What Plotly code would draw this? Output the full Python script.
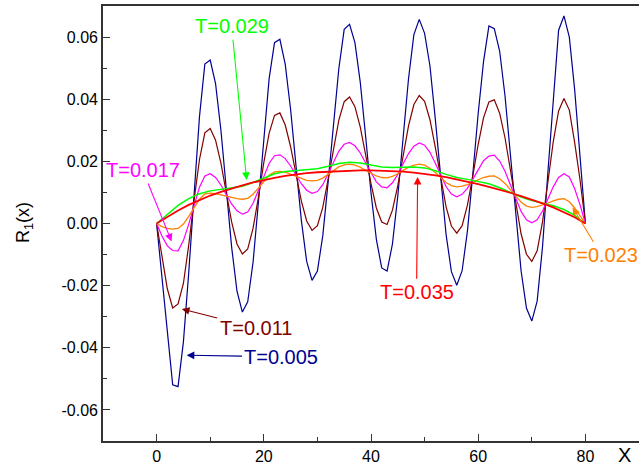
import plotly.graph_objects as go

# ---- data ----
x_fine = list(range(0, 81))          # x grid of the oscillating curves
x_coarse = list(range(0, 81, 2))     # x grid of the smooth curves

r_t005 = [0, -0.0173, -0.0346, -0.0519, -0.0525, -0.0381, -0.0157, 0.0107, 0.0344, 0.0513, 0.0526,
          0.0450, 0.0300, 0.0111, -0.0076, -0.0218, -0.0285, -0.0252, -0.0124, 0.0069, 0.0283,
          0.0467, 0.0582, 0.0593, 0.0512, 0.0367, 0.0187, 0.0011, -0.0122, -0.0183, -0.0153,
          -0.0040, 0.0133, 0.0327, 0.0499, 0.0625, 0.0641, 0.0582, 0.0454, 0.0280, 0.0099,
          -0.0051, -0.0143, -0.0153, -0.0066, 0.0089, 0.0281, 0.0466, 0.0608, 0.0657, 0.0612,
          0.0507, 0.0336, 0.0142, -0.0034, -0.0155, -0.0199, -0.0152, -0.0023, 0.0160, 0.0355,
          0.0522, 0.0636, 0.0627, 0.0555, 0.0411, 0.0222, 0.0023, -0.0152, -0.0272, -0.0314,
          -0.0250, -0.0075, 0.0164, 0.0408, 0.0622, 0.0668, 0.0600, 0.0430, 0.0220, 0]

r_t011 = [0, -0.011, -0.021, -0.0272, -0.0259, -0.0193, -0.0069, 0.0076, 0.0206, 0.0292, 0.0306,
          0.0268, 0.0194, 0.0099, 0.0005, -0.0066, -0.0098, -0.0082, -0.0015, 0.0085, 0.0196,
          0.0291, 0.0348, 0.0356, 0.0317, 0.0247, 0.0159, 0.0073, 0.0008, -0.0022, -0.0007,
          0.0052, 0.0142, 0.0243, 0.0333, 0.0392, 0.0407, 0.0376, 0.0310, 0.0221, 0.0128,
          0.0050, 0.0005, -0.0003, 0.0043, 0.0122, 0.0219, 0.0314, 0.0383, 0.0412, 0.0393,
          0.0334, 0.0245, 0.0145, 0.0054, -0.0008, -0.0031, -0.0007, 0.0060, 0.0154, 0.0255,
          0.0341, 0.0391, 0.0398, 0.0355, 0.0276, 0.0172, 0.0063, -0.0033, -0.0099, -0.0122,
          -0.0088, 0.0005, 0.0133, 0.0263, 0.0362, 0.0402, 0.0365, 0.026, 0.014, 0]

r_t017 = [0, -0.0040, -0.0072, -0.0087, -0.0088, -0.0055, -0.0002, 0.0061, 0.0117, 0.0153, 0.0160,
          0.0148, 0.0124, 0.0093, 0.0063, 0.0041, 0.0030, 0.0037, 0.0065, 0.0107, 0.0154,
          0.0194, 0.0218, 0.0221, 0.0209, 0.0185, 0.0156, 0.0128, 0.0107, 0.0097, 0.0103,
          0.0125, 0.0160, 0.0198, 0.0233, 0.0255, 0.0261, 0.0250, 0.0227, 0.0195, 0.0162,
          0.0134, 0.0118, 0.0115, 0.0131, 0.0158, 0.0192, 0.0225, 0.0249, 0.0259, 0.0252,
          0.0229, 0.0194, 0.0155, 0.0119, 0.0095, 0.0086, 0.0094, 0.0114, 0.0143, 0.0175,
          0.0202, 0.0217, 0.0220, 0.0201, 0.0168, 0.0125, 0.0079, 0.0039, 0.0012, 0.0002,
          0.0012, 0.0040, 0.0079, 0.0118, 0.0148, 0.0160, 0.0150, 0.0112, 0.0060, 0]

r_t023 = [0, -0.0010, -0.0016, -0.0018, -0.0016, -0.0002, 0.0023, 0.0052, 0.0078, 0.0095, 0.0098,
          0.0096, 0.0092, 0.0088, 0.0083, 0.0080, 0.0078, 0.0081, 0.0094, 0.0114, 0.0136,
          0.0155, 0.0166, 0.0168, 0.0165, 0.0159, 0.0152, 0.0145, 0.0139, 0.0137, 0.0139,
          0.0146, 0.0158, 0.0170, 0.0182, 0.0189, 0.0191, 0.0188, 0.0181, 0.0171, 0.0161,
          0.0153, 0.0148, 0.0147, 0.0152, 0.0160, 0.0171, 0.0181, 0.0188, 0.0191, 0.0188,
          0.0178, 0.0164, 0.0147, 0.0132, 0.0122, 0.0118, 0.0120, 0.0125, 0.0133, 0.0141,
          0.0148, 0.0152, 0.0153, 0.0144, 0.0129, 0.0109, 0.0088, 0.0069, 0.0056, 0.0052,
          0.0054, 0.0059, 0.0066, 0.0073, 0.0078, 0.0080, 0.0070, 0.0050, 0.0026, 0]

r_t029 = [0, 0.0030, 0.0058, 0.0080, 0.0096, 0.0105, 0.0110, 0.0114, 0.0120, 0.0132,
          0.0147, 0.0160, 0.0167, 0.0170, 0.0172, 0.0176, 0.0184, 0.0193, 0.0197, 0.0195,
          0.0188, 0.0182, 0.0180, 0.0181, 0.0182, 0.0179, 0.0170, 0.0158, 0.0148, 0.0142,
          0.0136, 0.0128, 0.0115, 0.0099, 0.0085, 0.0074, 0.0066, 0.0057, 0.0045, 0.0026, 0]

r_t035 = [0, 0.0022, 0.0042, 0.0060, 0.0076, 0.0090, 0.0102, 0.0113, 0.0123, 0.0132,
          0.0140, 0.0147, 0.0153, 0.0158, 0.0162, 0.0165, 0.0167, 0.0169, 0.0170, 0.0171,
          0.0171, 0.0170, 0.0169, 0.0167, 0.0164, 0.0160, 0.0155, 0.0149, 0.0142, 0.0135,
          0.0127, 0.0118, 0.0109, 0.0099, 0.0088, 0.0077, 0.0065, 0.0052, 0.0037, 0.0020, 0]

x_ticks = [0, 20, 40, 60, 80]
y_ticks = [-0.06, -0.04, -0.02, 0.00, 0.02, 0.04, 0.06]
y_tick_text = ["-0.06", "-0.04", "-0.02", "0.00", "0.02", "0.04", "0.06"]

C_BLUE = "#000090"
C_BROWN = "#800000"
C_MAG = "#FF00FF"
C_ORANGE = "#FF8000"
C_GREEN = "#00FF00"
C_RED = "#FF0000"

series = [
    (x_fine, r_t005, C_BLUE, 1.2),
    (x_fine, r_t011, C_BROWN, 1.2),
    (x_fine, r_t017, C_MAG, 1.2),
    (x_fine, r_t023, C_ORANGE, 1.3),
    (x_coarse, r_t029, C_GREEN, 1.5),
    (x_coarse, r_t035, C_RED, 1.8),
]

fig = go.Figure()
for xs, ys, col, w in series:
    fig.add_trace(go.Scatter(x=xs, y=ys, mode="lines",
                             line=dict(color=col, width=w), showlegend=False,
                             hoverinfo="skip"))

FONT = "Liberation Sans, Arial, sans-serif"

# labels with arrows: (text, color, text centre x, text centre y, arrow head x, arrow head y)
labels = [
    ("T=0.029", C_GREEN, 14.0, 0.0635, 16.8, 0.0140),
    ("T=0.017", C_MAG, -2.6, 0.0172, 2.8, -0.0058),
    ("T=0.011", C_BROWN, 18.5, -0.0336, 4.7, -0.0275),
    ("T=0.005", C_BLUE, 23.3, -0.0429, 5.6, -0.0424),
    ("T=0.035", C_RED, 48.5, -0.0221, 48.7, 0.0150),
    ("T=0.023", C_ORANGE, 83.0, -0.0102, 77.6, 0.0052),
]

annotations = []
for text, col, tx, ty, hx, hy in labels:
    annotations.append(dict(x=hx, y=hy, ax=tx, ay=ty, xref="x", yref="y",
                            axref="x", ayref="y", text=text, showarrow=True,
                            arrowhead=2, arrowsize=1.4, arrowwidth=1.1,
                            arrowcolor=col, standoff=0, borderpad=2,
                            font=dict(family=FONT, size=20, color=col)))

W, H = 639, 465
L, R, T, B = 103, 0, 6, 24
pw, ph = W - L - R, H - T - B


def px_to_paper(px, py):
    return (px - L) / pw, 1 - (py - T) / ph


xt, yt = px_to_paper(624, 455)
annotations.append(dict(x=xt, y=yt, xref="paper", yref="paper", text="X",
                        showarrow=False, xanchor="center", yanchor="middle",
                        font=dict(family=FONT, size=20, color="#000000")))
xt, yt = px_to_paper(24, 223)
annotations.append(dict(x=xt, y=yt, xref="paper", yref="paper", text="R<sub>1</sub>(x)",
                        textangle=-90, showarrow=False, xanchor="center", yanchor="middle",
                        font=dict(family=FONT, size=18, color="#000000")))

axis_line = "#333333"
fig.update_layout(
    width=W, height=H,
    margin=dict(l=L, r=R, t=T, b=B, pad=0),
    paper_bgcolor="white", plot_bgcolor="white",
    font=dict(family=FONT, size=16, color="#000000"),
    annotations=annotations,
    xaxis=dict(range=[-10, 90], tickvals=x_ticks, ticks="inside", ticklen=7,
               tickwidth=1.2, tickcolor=axis_line, showline=True, linecolor=axis_line,
               linewidth=1.6, mirror=True, showgrid=False, zeroline=False,
               tickfont=dict(family=FONT, size=16),
               minor=dict(tickvals=[10, 30, 50, 70], ticks="inside", ticklen=4,
                          tickwidth=1.2, tickcolor=axis_line)),
    yaxis=dict(range=[-0.07, 0.07], tickvals=y_ticks, ticktext=y_tick_text,
               ticks="inside", ticklen=7, tickwidth=1.2, tickcolor=axis_line,
               showline=True, linecolor=axis_line, linewidth=1.6, showgrid=False,
               zeroline=False, tickfont=dict(family=FONT, size=16),
               minor=dict(tickvals=[-0.05, -0.03, -0.01, 0.01, 0.03, 0.05],
                          ticks="inside", ticklen=4, tickwidth=1.2, tickcolor=axis_line)),
)

fig.write_html("out.html", config={"displayModeBar": False},
               post_script="document.body.style.margin='0';document.body.style.overflow='hidden';")
